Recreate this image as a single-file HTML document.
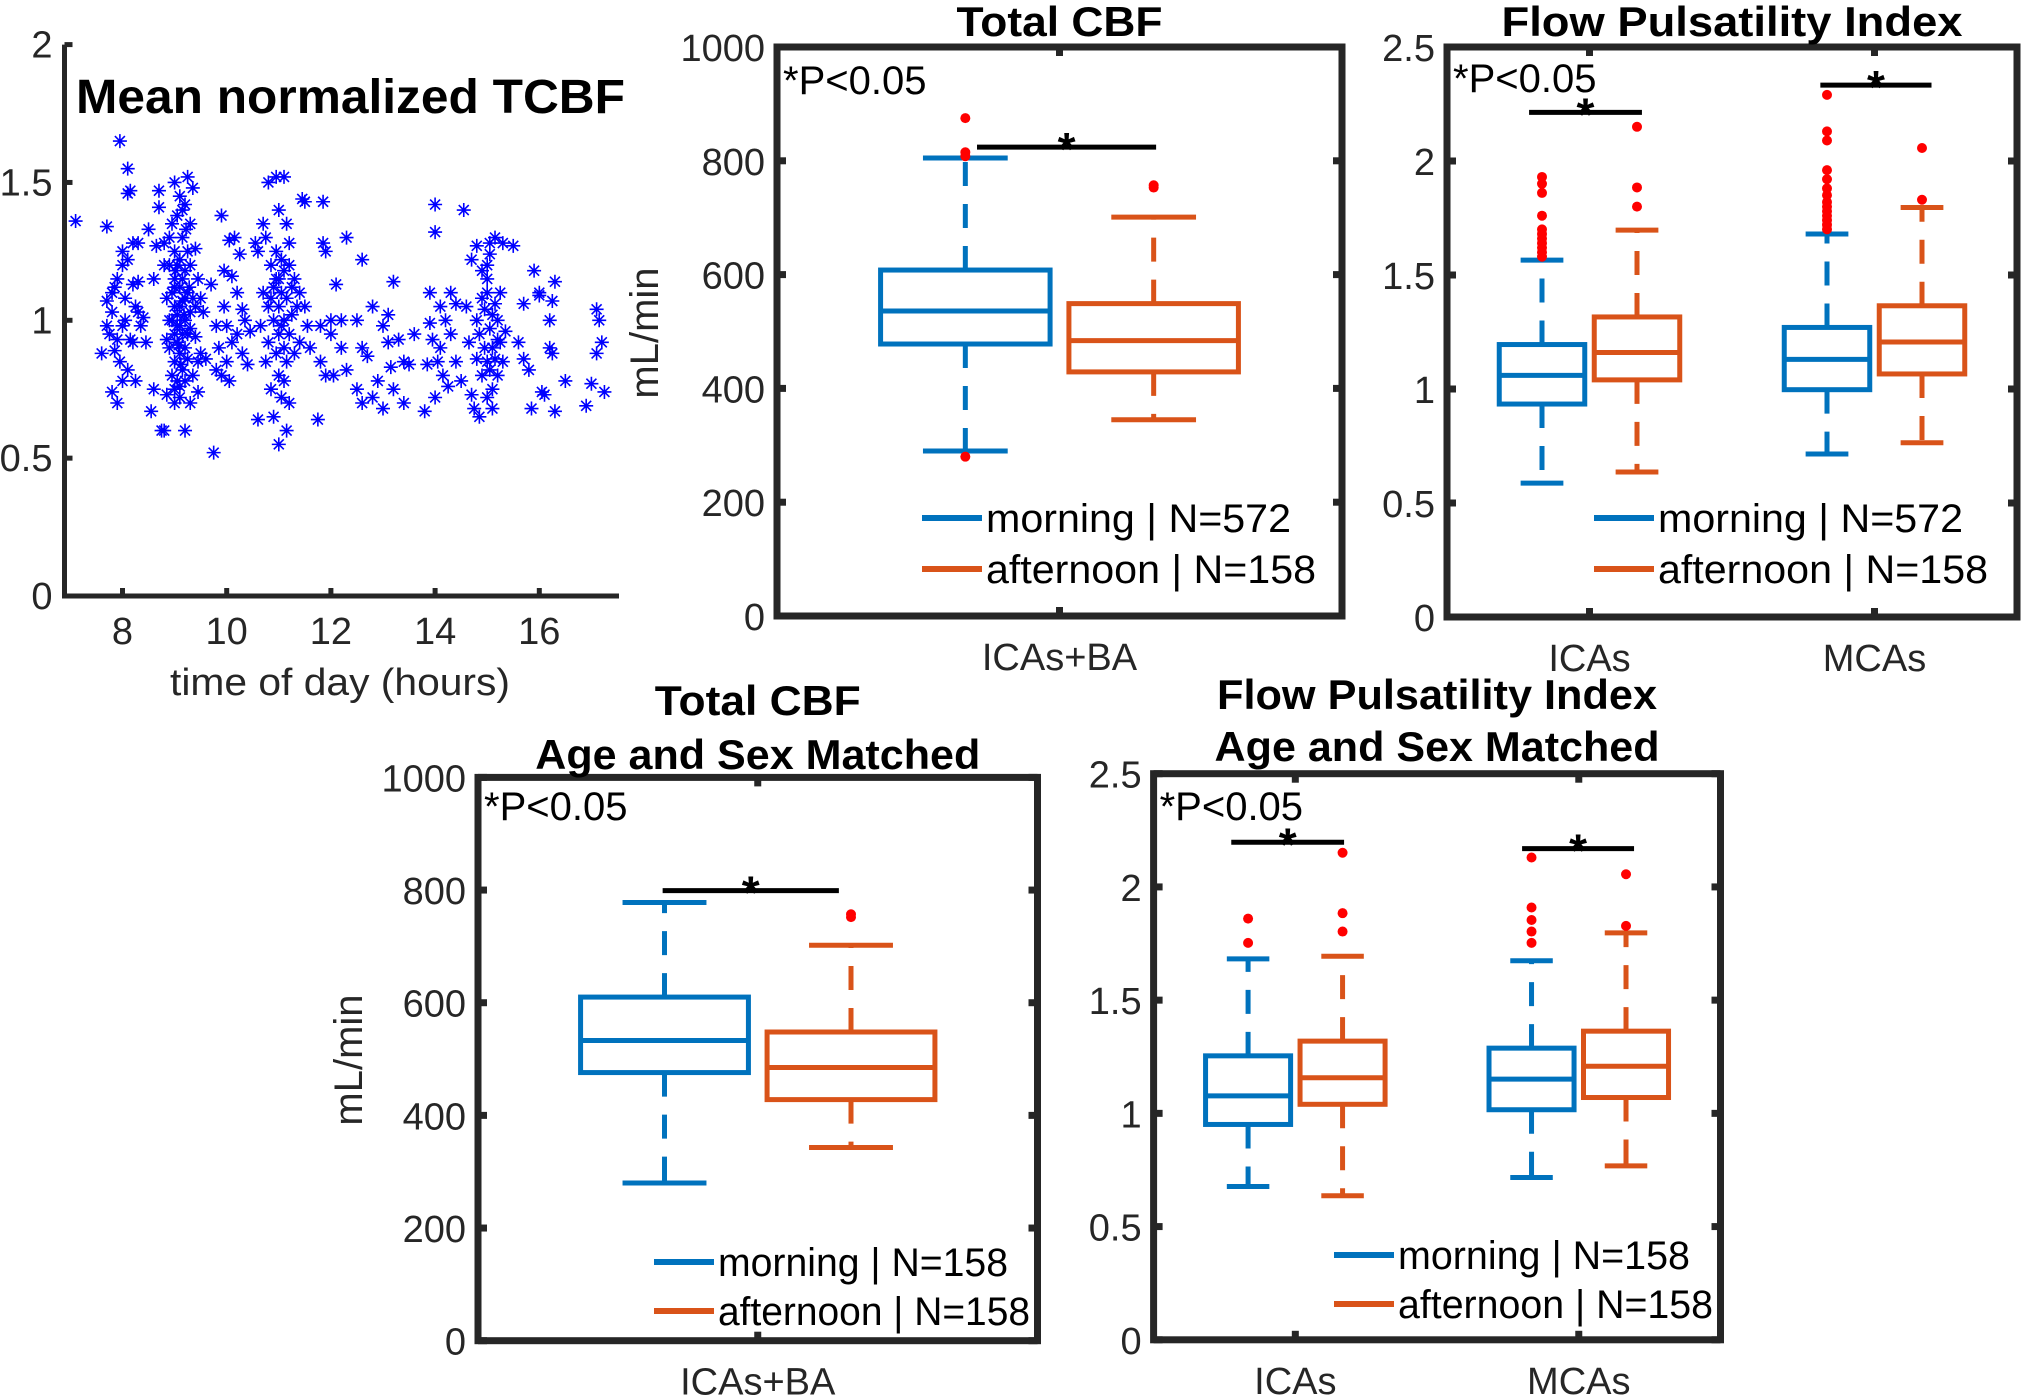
<!DOCTYPE html>
<html><head><meta charset="utf-8"><style>html,body{margin:0;padding:0;background:#fff}svg{display:block}text{font-family:"Liberation Sans",Arial,sans-serif}</style></head>
<body>
<svg id="fig" width="2023" height="1397" viewBox="0 0 2023 1397" xmlns="http://www.w3.org/2000/svg">
<rect width="2023" height="1397" fill="#fff"/>
</svg>
<script>
// ---------- scatter data (hours, normalized TCBF) ----------
const scatterHours = [7.1,7.7,7.6,7.7,7.8,7.75,7.8,7.9,7.95,7.9,8.0,8.0,8.05,8.1,8.1,8.15,8.2,8.2,8.25,8.3,8.3,8.1,7.85,7.95,8.0,8.05,8.15,8.2,8.3,8.35,8.4,8.45,8.5,8.55,8.6,8.6,8.65,8.7,8.7,8.75,8.8,8.8,8.85,7.8,7.9,8.0,8.1,7.7,7.85,8.25,
8.9,8.9,8.9,8.95,8.95,8.95,9.0,9.0,9.0,9.0,9.0,9.0,9.05,9.05,9.05,9.05,9.1,9.1,9.1,9.1,9.1,9.1,9.15,9.15,9.15,9.15,9.2,9.2,9.2,9.2,9.2,9.25,9.25,9.25,9.3,9.3,9.3,9.35,9.35,9.35,9.4,9.4,9.4,9.45,9.45,8.85,8.85,8.95,9.0,9.05,9.1,9.15,9.2,9.25,9.3,9.05,9.0,9.1,9.2,9.15,9.25,8.8,9.5,9.55,9.6,9.5,9.45,9.0,9.3,8.9,9.12,9.22,9.08,9.18,9.28,9.02,
9.7,9.75,9.8,9.85,9.9,9.9,9.95,9.95,10.0,10.0,10.05,10.1,10.1,10.15,10.2,10.2,10.25,10.3,10.3,9.8,10.05,10.35,10.4,10.45,
10.55,10.6,10.6,10.65,10.7,10.7,10.75,10.75,10.8,10.8,10.8,10.85,10.85,10.9,10.9,10.9,10.95,10.95,10.95,11.0,11.0,11.0,11.0,11.0,11.05,11.05,11.05,11.1,11.1,11.1,11.1,11.15,11.15,11.15,11.15,11.2,11.2,11.2,11.25,11.25,11.3,11.3,11.35,11.4,11.4,11.45,11.5,11.5,11.55,11.6,11.0,11.1,11.05,10.85,11.2,10.95,
11.75,11.8,11.8,11.85,11.85,11.9,11.9,12.0,12.0,12.05,12.1,12.2,12.2,12.3,12.3,12.5,12.5,12.6,12.6,12.6,12.7,12.8,12.8,12.9,13.0,13.0,13.1,13.1,13.15,13.2,13.2,13.3,13.4,13.4,13.5,13.6,13.8,13.85,13.9,13.9,13.95,14.0,14.0,14.0,14.05,14.1,14.1,14.15,14.2,14.25,14.3,14.3,14.4,14.4,14.5,14.55,14.6,14.65,14.7,14.7,
14.75,14.8,14.8,14.8,14.85,14.85,14.9,14.9,14.95,14.95,15.0,15.0,15.0,15.0,15.05,15.05,15.05,15.1,15.1,15.1,15.15,15.15,15.15,15.2,15.2,15.25,15.25,15.3,15.3,15.35,15.0,15.1,15.05,14.9,15.2,
15.5,15.6,15.7,15.7,15.8,15.85,15.9,16.0,16.0,16.05,16.1,16.2,16.2,16.25,16.25,16.3,16.3,16.5,16.9,17.0,17.1,17.1,17.15,17.2,17.25];
const scatterValues = [1.36,1.34,0.88,1.07,1.1,0.95,0.74,0.7,1.65,0.93,1.2,1.25,1.0,1.55,1.46,1.47,1.28,1.13,0.78,1.28,1.03,0.82,1.12,0.85,0.98,1.08,0.93,0.92,1.14,0.98,1.01,0.92,1.33,0.67,1.15,0.75,1.27,1.47,1.41,0.6,1.28,1.2,0.73,1.03,1.15,0.78,1.22,0.98,0.89,1.05,
1.0,0.9,1.2,1.1,0.8,1.35,1.05,0.95,0.85,1.15,1.25,0.7,1.38,1.02,0.92,0.78,1.12,0.98,1.45,0.88,1.22,0.72,1.07,0.95,1.3,0.82,1.18,1.0,0.9,1.42,0.6,1.1,0.86,1.52,1.2,0.97,0.7,1.08,1.48,0.8,1.26,0.94,1.05,0.85,1.15,1.08,0.93,1.0,1.12,0.98,1.05,1.15,1.08,0.95,1.03,1.2,0.75,0.76,0.78,1.4,1.25,0.6,1.08,1.03,0.86,0.88,0.74,1.5,1.35,1.3,0.84,1.33,0.91,1.02,1.12,1.18,
1.13,0.52,0.98,0.9,1.38,0.8,1.18,1.05,0.98,0.85,1.29,1.16,0.92,1.3,1.1,0.95,1.24,1.04,0.88,0.82,0.78,1.0,0.84,0.96,
1.28,1.25,0.64,0.98,1.1,1.35,1.3,0.85,1.05,1.5,0.92,1.2,0.75,1.12,1.0,0.65,1.25,0.88,1.52,1.15,1.05,0.95,0.8,0.55,1.22,1.1,0.72,1.18,1.0,0.9,1.52,1.35,1.08,0.85,0.6,1.2,0.95,0.7,1.12,1.02,1.15,0.88,1.05,1.1,0.92,1.44,1.05,1.43,0.98,0.9,1.4,0.78,0.98,1.08,1.28,1.15,
0.64,0.98,0.85,1.28,1.43,1.25,0.8,0.95,1.0,0.8,1.13,0.9,1.0,0.82,1.3,0.75,1.0,0.7,0.9,1.22,0.87,0.72,1.05,0.78,0.98,0.68,0.92,1.02,0.83,0.75,1.14,0.93,0.85,0.7,0.84,0.95,0.67,0.84,0.99,1.1,0.93,0.72,1.32,1.42,0.85,1.05,0.9,0.8,1.0,0.76,0.95,1.1,0.85,1.06,0.78,1.4,1.05,0.92,0.73,1.22,
0.68,0.86,1.0,1.27,0.95,0.65,1.08,0.8,0.9,1.04,1.1,0.85,0.72,1.2,0.97,0.82,1.24,1.02,0.75,0.9,1.06,0.86,1.3,1.0,0.8,1.1,0.92,1.28,0.85,0.96,1.15,0.68,1.28,1.18,0.93,
1.27,0.92,0.86,1.06,0.82,0.68,1.18,1.1,1.09,0.74,0.73,1.0,0.9,0.88,1.07,0.67,1.14,0.78,0.69,0.77,0.88,1.04,1.0,0.92,0.74];
const scatterXTicks = [8,10,12,14,16];
const scatterYTicks = [0,0.5,1,1.5,2];

// ---------- box data: [lower whisker, Q1, median, Q3, upper whisker] ----------
const cbfTopCategories = ["ICAs+BA"];
const cbfTopMorning = [[290,478,536,608,805]];
const cbfTopAfternoon = [[345,429,484,549,701]];
const cbfTopMorningOut = [[875,815,808,280]];
const cbfTopAfternoonOut = [[753,757]];
const cbfYTicks = [0,200,400,600,800,1000];

const piTopCategories = ["ICAs","MCAs"];
const piTopMorning = [[0.587,0.934,1.06,1.195,1.565],[0.715,0.997,1.13,1.27,1.68]];
const piTopAfternoon = [[0.636,1.04,1.16,1.316,1.697],[0.764,1.066,1.206,1.365,1.796]];
const piTopMorningOut = [[1.58,1.6,1.62,1.64,1.66,1.68,1.7,1.76,1.86,1.9,1.93],[1.7,1.72,1.74,1.76,1.78,1.8,1.82,1.85,1.88,1.92,1.96,2.09,2.13,2.29]];
const piTopAfternoonOut = [[2.15,1.884,1.8],[2.057,1.83]];
const piYTicks = [0,0.5,1,1.5,2,2.5];

const cbfBotCategories = ["ICAs+BA"];
const cbfBotMorning = [[280,476,533,610,778]];
const cbfBotAfternoon = [[343,428,485,548,702]];
const cbfBotMorningOut = [[]];
const cbfBotAfternoonOut = [[752,757]];

const piBotCategories = ["ICAs","MCAs"];
const piBotMorning = [[0.677,0.951,1.077,1.254,1.682],[0.717,1.016,1.151,1.288,1.674]];
const piBotAfternoon = [[0.636,1.04,1.157,1.319,1.694],[0.768,1.07,1.208,1.363,1.797]];
const piBotMorningOut = [[1.86,1.753],[2.13,1.909,1.854,1.803,1.753]];
const piBotAfternoonOut = [[2.151,1.884,1.803],[2.056,1.828]];

const NS = "http://www.w3.org/2000/svg";
const svg = document.getElementById("fig");
const BLUE = "#0072BD", ORANGE = "#D95319", AX = "#262626";

function mk(tag, attrs, parent) {
  const e = document.createElementNS(NS, tag);
  for (const k in attrs) e.setAttribute(k, attrs[k]);
  (parent || svg).appendChild(e);
  return e;
}
function txt(s, x, y, size, opts, parent) {
  opts = opts || {};
  const t = mk("text", {x: x, y: y, "font-size": size, fill: opts.fill || "#000", "text-anchor": opts.anchor || "start"}, parent);
  if (opts.bold) t.setAttribute("font-weight", "bold");
  if (opts.len) { t.setAttribute("textLength", opts.len); t.setAttribute("lengthAdjust", "spacingAndGlyphs"); }
  if (opts.rot) t.setAttribute("transform", "rotate(-90 " + x + " " + y + ")");
  t.textContent = s;
  return t;
}

// ---------- Scatter ----------
(function () {
  const g = mk("g", {});
  
  
  const L = 64.5, R = 619, T = 44.6, B = 596;
  const xs = h => 122.5 + (h - 8) * 52.1;
  const ys = v => B - v * 275.7;
  const pts = mk("g", {stroke: "#0000ff", "stroke-width": 1.6, fill: "none"}, g);
  
  
  for (let i = 0; i < scatterHours.length; i++) {
    const x = xs(scatterHours[i]), y = ys(scatterValues[i]), s = 7, d = 5;
    const p = mk("path", {d: `M${x-s} ${y}H${x+s}M${x} ${y-s}V${y+s}M${x-d} ${y-d}L${x+d} ${y+d}M${x-d} ${y+d}L${x+d} ${y-d}`}, pts);
    
    
  }
  const ax = mk("path", {d: `M${L} ${T}V${B}H${R}`, stroke: AX, "stroke-width": 5, fill: "none"}, g);
  
  
  scatterYTicks.forEach(v => {
    mk("line", {x1: L, x2: L + 8, y1: ys(v), y2: ys(v), stroke: AX, "stroke-width": 5}, g);
    const t = txt(String(v), L - 12, ys(v) + 13, 38, {anchor: "end", fill: "#262626"}, g);
    
    
  });
  scatterXTicks.forEach(v => {
    mk("line", {x1: xs(v), x2: xs(v), y1: B, y2: B - 8, stroke: AX, "stroke-width": 5}, g);
    const t = txt(String(v), xs(v), B + 48, 38, {anchor: "middle", fill: "#262626"}, g);
    
    
  });
  const xl = txt("time of day (hours)", 340, 695, 38, {anchor: "middle", fill: "#262626", len: 340}, g);
  
  
  const tt = txt("Mean normalized TCBF", 76, 113, 48, {bold: true, len: 549}, g);
  
  
})();

// ---------- Box charts ----------
function boxChart(o) {
  const g = mk("g", {});
  
  
  const n = o.cats.length, W = o.R - o.L, unit = W / n;
  const xs = c => o.L + (c + 0.5) * unit;
  const ys = v => o.B - (v / o.ymax) * (o.B - o.T);
  const hb = 0.15 * unit, off = unit / 6;
  [[o.morning, o.mOut, -off, BLUE, "morning"], [o.afternoon, o.aOut, off, ORANGE, "afternoon"]].forEach(([data, outs, dx, col, nm]) => {
    data.forEach((d, c) => {
      const cx = xs(c) + dx;
      const bg = mk("g", {stroke: col, "stroke-width": 5, fill: "none"}, g);
      
      
      mk("line", {x1: cx, x2: cx, y1: ys(d[3]), y2: ys(d[4]), "stroke-dasharray": "24 18"}, bg);
      mk("line", {x1: cx, x2: cx, y1: ys(d[1]), y2: ys(d[0]), "stroke-dasharray": "24 18"}, bg);
      mk("line", {x1: cx - hb / 2, x2: cx + hb / 2, y1: ys(d[4]), y2: ys(d[4])}, bg);
      mk("line", {x1: cx - hb / 2, x2: cx + hb / 2, y1: ys(d[0]), y2: ys(d[0])}, bg);
      mk("rect", {x: cx - hb, y: ys(d[3]), width: 2 * hb, height: ys(d[1]) - ys(d[3])}, bg);
      mk("line", {x1: cx - hb, x2: cx + hb, y1: ys(d[2]), y2: ys(d[2])}, bg);
      (outs[c] || []).forEach(v => {
        const p = mk("circle", {cx: cx, cy: ys(v), r: 5, fill: "#ff0000", stroke: "none"}, g);
        
        
      });
    });
  });
  const fr = mk("rect", {x: o.L, y: o.T, width: W, height: o.B - o.T, fill: "none", stroke: AX, "stroke-width": 7}, g);
  
  
  o.yticks.forEach(v => {
    mk("line", {x1: o.L, x2: o.L + 9, y1: ys(v), y2: ys(v), stroke: AX, "stroke-width": 7}, g);
    mk("line", {x1: o.R, x2: o.R - 9, y1: ys(v), y2: ys(v), stroke: AX, "stroke-width": 7}, g);
    const t = txt(String(v), o.L - 12, ys(v) + 14, 38, {anchor: "end", fill: "#262626"}, g);
    
    
  });
  o.cats.forEach((c, i) => {
    mk("line", {x1: xs(i), x2: xs(i), y1: o.T, y2: o.T + 9, stroke: AX, "stroke-width": 7}, g);
    mk("line", {x1: xs(i), x2: xs(i), y1: o.B, y2: o.B - 9, stroke: AX, "stroke-width": 7}, g);
    const t = txt(c, xs(i), o.B + 54, 38, {anchor: "middle", fill: "#262626"}, g);
    
    
  });
  o.sig.forEach((s, i) => {
    const y = ys(s[2]);
    const b = mk("line", {x1: xs(i) + s[0] * unit, x2: xs(i) + s[1] * unit, y1: y, y2: y, stroke: "#000", "stroke-width": 5}, g);
    
    
    const st = txt("*", xs(i) + (s[0] + s[1]) / 2 * unit, y + 18, 46, {anchor: "middle", bold: true}, g);
    
    
  });
  const pv = txt("*P<0.05", o.L + 6, o.pY, 40, {}, g);
  
  
  [[BLUE, o.leg[0], o.legY[0], 'legend-morning', o.legLen[0]], [ORANGE, o.leg[1], o.legY[1], 'legend-afternoon', o.legLen[1]]].forEach(([col, s, y, nm, len]) => {
    const lg = mk("g", {}, g);
    
    
    mk("line", {x1: o.legX, x2: o.legX + 60, y1: y, y2: y, stroke: col, "stroke-width": 6}, lg);
    txt(s, o.legX + 64, y + 14, 40, {fill: "#000", len: len}, lg);
  });
  o.titles.forEach(([s, y, len]) => {
    const t = txt(s, (o.L + o.R) / 2, y, 42, {anchor: "middle", bold: true, len: len}, g);
    
    
  });
  if (o.ylabel) {
    const t = txt(o.ylabel[0], o.ylabel[1], o.ylabel[2], 40, {anchor: "middle", rot: true, fill: "#262626"}, g);
    
    
  }
}

boxChart({name: "total-cbf-panel", L: 777, R: 1342, T: 47, B: 616, ymax: 1000, yticks: cbfYTicks, cats: cbfTopCategories,
  morning: cbfTopMorning, afternoon: cbfTopAfternoon, mOut: cbfTopMorningOut, aOut: cbfTopAfternoonOut,
  sig: [[-0.146, 0.171, 824]], pY: 94, legX: 922, legY: [518, 569], legLen: [305, 330],
  leg: ["morning | N=572", "afternoon | N=158"], titles: [["Total CBF", 36, 206]], ylabel: ["mL/min", 658, 333]});

boxChart({name: "flow-pulsatility-panel", L: 1447, R: 2017, T: 47, B: 617, ymax: 2.5, yticks: piYTicks, cats: piTopCategories,
  morning: piTopMorning, afternoon: piTopAfternoon, mOut: piTopMorningOut, aOut: piTopAfternoonOut,
  sig: [[-0.212, 0.184, 2.213], [-0.19, 0.2, 2.333]], pY: 92, legX: 1594, legY: [518, 569], legLen: [305, 330],
  leg: ["morning | N=572", "afternoon | N=158"], titles: [["Flow Pulsatility Index", 36, 461]]});

boxChart({name: "total-cbf-matched-panel", L: 478, R: 1037.5, T: 777.4, B: 1340.7, ymax: 1000, yticks: cbfYTicks, cats: cbfBotCategories,
  morning: cbfBotMorning, afternoon: cbfBotAfternoon, mOut: cbfBotMorningOut, aOut: cbfBotAfternoonOut,
  sig: [[-0.17, 0.145, 799]], pY: 820, legX: 654, legY: [1262, 1311], legLen: [290, 312],
  leg: ["morning | N=158", "afternoon | N=158"], titles: [["Total CBF", 715, 206], ["Age and Sex Matched", 769, 445]], ylabel: ["mL/min", 362, 1060]});

boxChart({name: "flow-pulsatility-matched-panel", L: 1153.6, R: 1720.5, T: 773.7, B: 1339.8, ymax: 2.5, yticks: piYTicks, cats: piBotCategories,
  morning: piBotMorning, afternoon: piBotAfternoon, mOut: piBotMorningOut, aOut: piBotAfternoonOut,
  sig: [[-0.226, 0.172, 2.197], [-0.2, 0.195, 2.169]], pY: 820, legX: 1334, legY: [1255, 1304], legLen: [292, 315],
  leg: ["morning | N=158", "afternoon | N=158"], titles: [["Flow Pulsatility Index", 709, 440], ["Age and Sex Matched", 761, 445]]});
</script>
</body></html>
